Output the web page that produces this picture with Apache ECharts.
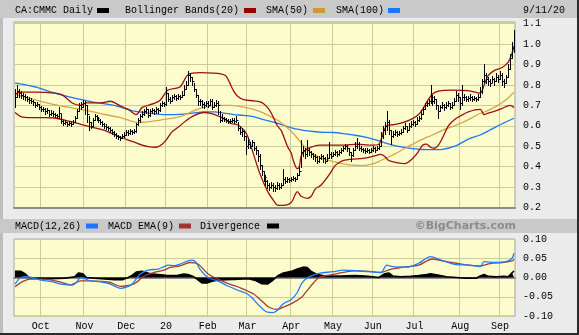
<!DOCTYPE html>
<html>
<head>
<meta charset="utf-8">
<script src="https://cdn.jsdelivr.net/npm/echarts@6/dist/echarts.min.js"></script>
<style>
  html, body { margin: 0; padding: 0; background: #ebebeb; }
  #chart { width: 579px; height: 335px; }
</style>
</head>
<body>
<div id="chart"></div>
<script>
// Trading sessions per month, Sep 2019 .. Sep 2020
const monthNames = ['Sep', 'Oct', 'Nov', 'Dec', '20', 'Feb', 'Mar', 'Apr', 'May', 'Jun', 'Jul', 'Aug', 'Sep'];
const monthSessions = [13, 22, 21, 20, 21, 20, 22, 21, 20, 21, 23, 20, 8];

// Daily bars: high / low / close
const highs = [
  0.78, 0.80, 0.78, 0.77, 0.76, 0.755, 0.745, 0.74, 0.735, 0.725,
  0.715, 0.715, 0.705, 0.695, 0.69, 0.685, 0.685, 0.675, 0.675, 0.67,
  0.665, 0.66, 0.69, 0.66, 0.63, 0.63, 0.62, 0.625, 0.62, 0.63,
  0.65, 0.68, 0.71, 0.715, 0.725, 0.72, 0.70, 0.65, 0.62, 0.64,
  0.66, 0.655, 0.645, 0.635, 0.625, 0.615, 0.61, 0.60, 0.595, 0.585,
  0.575, 0.565, 0.555, 0.55, 0.56, 0.57, 0.58, 0.58, 0.585, 0.58,
  0.585, 0.615, 0.64, 0.66, 0.67, 0.68, 0.69, 0.68, 0.68, 0.685,
  0.68, 0.69, 0.685, 0.71, 0.72, 0.715, 0.79, 0.76, 0.74, 0.75,
  0.755, 0.75, 0.755, 0.75, 0.77, 0.80, 0.82, 0.87, 0.86, 0.84,
  0.81, 0.78, 0.75, 0.73, 0.725, 0.715, 0.72, 0.72, 0.73, 0.73,
  0.715, 0.725, 0.72, 0.67, 0.66, 0.645, 0.64, 0.635, 0.635, 0.64,
  0.64, 0.65, 0.62, 0.60, 0.59, 0.58, 0.55, 0.54, 0.52, 0.53,
  0.52, 0.50, 0.48, 0.46, 0.41, 0.38, 0.36, 0.335, 0.32, 0.325,
  0.32, 0.31, 0.325, 0.32, 0.32, 0.39, 0.35, 0.35, 0.345, 0.35,
  0.355, 0.35, 0.37, 0.40, 0.53, 0.50, 0.49, 0.53, 0.49, 0.475,
  0.465, 0.46, 0.45, 0.45, 0.46, 0.455, 0.445, 0.46, 0.52, 0.47,
  0.47, 0.48, 0.475, 0.48, 0.49, 0.50, 0.51, 0.505, 0.49, 0.47,
  0.49, 0.52, 0.54, 0.52, 0.50, 0.49, 0.49, 0.49, 0.485, 0.49,
  0.50, 0.495, 0.50, 0.51, 0.57, 0.60, 0.62, 0.67, 0.63, 0.58,
  0.575, 0.58, 0.575, 0.575, 0.585, 0.60, 0.615, 0.60, 0.615, 0.625,
  0.63, 0.625, 0.645, 0.65, 0.675, 0.69, 0.71, 0.72, 0.73, 0.80,
  0.75, 0.745, 0.73, 0.70, 0.70, 0.715, 0.705, 0.715, 0.72, 0.71,
  0.715, 0.735, 0.77, 0.76, 0.74, 0.80, 0.755, 0.745, 0.745, 0.755,
  0.745, 0.745, 0.74, 0.755, 0.79, 0.83, 0.90, 0.86, 0.84, 0.83,
  0.845, 0.835, 0.86, 0.85, 0.87, 0.86, 0.83, 0.85, 0.90, 0.95,
  1.01, 1.07
];
const lows = [
  0.69, 0.74, 0.74, 0.735, 0.73, 0.725, 0.72, 0.71, 0.71, 0.70,
  0.69, 0.695, 0.68, 0.67, 0.67, 0.66, 0.665, 0.65, 0.655, 0.65,
  0.645, 0.64, 0.64, 0.615, 0.605, 0.61, 0.60, 0.605, 0.60, 0.61,
  0.62, 0.64, 0.67, 0.68, 0.69, 0.66, 0.62, 0.58, 0.59, 0.60,
  0.63, 0.63, 0.62, 0.61, 0.60, 0.59, 0.585, 0.58, 0.57, 0.56,
  0.55, 0.54, 0.535, 0.53, 0.54, 0.545, 0.555, 0.555, 0.56, 0.56,
  0.565, 0.57, 0.605, 0.62, 0.645, 0.655, 0.665, 0.645, 0.65, 0.665,
  0.66, 0.665, 0.665, 0.67, 0.695, 0.695, 0.70, 0.72, 0.71, 0.72,
  0.73, 0.725, 0.73, 0.73, 0.74, 0.75, 0.78, 0.80, 0.82, 0.80,
  0.77, 0.74, 0.70, 0.70, 0.69, 0.685, 0.695, 0.69, 0.70, 0.68,
  0.69, 0.695, 0.66, 0.62, 0.625, 0.625, 0.62, 0.615, 0.615, 0.62,
  0.615, 0.62, 0.58, 0.56, 0.55, 0.53, 0.46, 0.49, 0.49, 0.50,
  0.48, 0.46, 0.43, 0.39, 0.36, 0.33, 0.31, 0.295, 0.285, 0.295,
  0.28, 0.28, 0.29, 0.29, 0.295, 0.31, 0.32, 0.325, 0.325, 0.33,
  0.335, 0.33, 0.34, 0.36, 0.40, 0.45, 0.44, 0.45, 0.455, 0.445,
  0.435, 0.43, 0.42, 0.425, 0.435, 0.425, 0.42, 0.43, 0.44, 0.44,
  0.45, 0.455, 0.45, 0.455, 0.465, 0.475, 0.485, 0.475, 0.455, 0.43,
  0.45, 0.48, 0.49, 0.48, 0.475, 0.47, 0.465, 0.47, 0.465, 0.47,
  0.475, 0.47, 0.48, 0.485, 0.50, 0.54, 0.56, 0.58, 0.56, 0.51,
  0.545, 0.555, 0.55, 0.555, 0.56, 0.57, 0.585, 0.57, 0.58, 0.595,
  0.605, 0.60, 0.61, 0.625, 0.635, 0.66, 0.68, 0.695, 0.70, 0.71,
  0.70, 0.71, 0.68, 0.64, 0.67, 0.685, 0.675, 0.685, 0.695, 0.68,
  0.685, 0.70, 0.72, 0.72, 0.68, 0.70, 0.725, 0.72, 0.72, 0.725,
  0.72, 0.725, 0.72, 0.725, 0.74, 0.76, 0.81, 0.81, 0.80, 0.795,
  0.815, 0.80, 0.82, 0.815, 0.83, 0.80, 0.79, 0.81, 0.84, 0.88,
  0.93, 0.96
];
const closes = [
  0.74, 0.77, 0.76, 0.75, 0.745, 0.74, 0.73, 0.725, 0.72, 0.715,
  0.70, 0.705, 0.69, 0.68, 0.68, 0.67, 0.675, 0.66, 0.665, 0.66,
  0.655, 0.65, 0.665, 0.625, 0.615, 0.62, 0.61, 0.615, 0.61, 0.62,
  0.64, 0.67, 0.70, 0.69, 0.71, 0.70, 0.66, 0.62, 0.60, 0.63,
  0.65, 0.64, 0.63, 0.62, 0.61, 0.60, 0.595, 0.59, 0.58, 0.57,
  0.56, 0.55, 0.545, 0.54, 0.55, 0.555, 0.57, 0.565, 0.575, 0.57,
  0.575, 0.61, 0.63, 0.65, 0.66, 0.67, 0.68, 0.655, 0.67, 0.675,
  0.67, 0.68, 0.675, 0.70, 0.71, 0.705, 0.76, 0.73, 0.72, 0.74,
  0.745, 0.735, 0.745, 0.74, 0.75, 0.78, 0.80, 0.85, 0.84, 0.82,
  0.78, 0.75, 0.72, 0.72, 0.705, 0.70, 0.71, 0.70, 0.72, 0.69,
  0.70, 0.71, 0.70, 0.63, 0.64, 0.635, 0.63, 0.625, 0.625, 0.63,
  0.625, 0.63, 0.59, 0.57, 0.575, 0.55, 0.50, 0.51, 0.50, 0.52,
  0.49, 0.48, 0.45, 0.41, 0.38, 0.35, 0.33, 0.31, 0.30, 0.31,
  0.30, 0.295, 0.31, 0.30, 0.31, 0.34, 0.33, 0.34, 0.335, 0.34,
  0.345, 0.34, 0.36, 0.38, 0.47, 0.48, 0.46, 0.48, 0.47, 0.46,
  0.45, 0.445, 0.43, 0.44, 0.45, 0.44, 0.43, 0.44, 0.46, 0.45,
  0.46, 0.47, 0.46, 0.47, 0.48, 0.49, 0.50, 0.49, 0.47, 0.455,
  0.48, 0.50, 0.51, 0.49, 0.485, 0.48, 0.475, 0.48, 0.47, 0.48,
  0.49, 0.48, 0.49, 0.50, 0.55, 0.58, 0.60, 0.62, 0.58, 0.55,
  0.56, 0.57, 0.56, 0.565, 0.57, 0.59, 0.60, 0.58, 0.60, 0.61,
  0.62, 0.61, 0.63, 0.64, 0.66, 0.68, 0.70, 0.71, 0.72, 0.74,
  0.72, 0.73, 0.70, 0.67, 0.69, 0.70, 0.69, 0.70, 0.71, 0.69,
  0.70, 0.72, 0.75, 0.74, 0.71, 0.74, 0.74, 0.73, 0.735, 0.74,
  0.73, 0.735, 0.73, 0.74, 0.77, 0.82, 0.85, 0.83, 0.82, 0.81,
  0.83, 0.82, 0.84, 0.83, 0.85, 0.82, 0.81, 0.84, 0.88, 0.93,
  0.98, 1.04
];

// Overlay studies, [session, value]
const bbUpper = [
  [0, 0.755], [3, 0.765], [10, 0.765], [20, 0.76], [24, 0.75], [29, 0.71], [33, 0.70], [36, 0.712],
  [43, 0.712], [48, 0.72], [53, 0.697], [57, 0.68], [61, 0.655], [64, 0.69], [70, 0.71], [73, 0.725],
  [77, 0.775], [83, 0.79], [87, 0.85], [93, 0.86], [100, 0.858], [103, 0.855], [106, 0.845], [108, 0.81],
  [110, 0.77], [112, 0.745], [115, 0.728], [120, 0.722], [124, 0.715], [127, 0.69], [129, 0.66], [132, 0.60],
  [134, 0.575], [137, 0.50], [139, 0.465], [140, 0.43], [142, 0.39], [143, 0.40], [144, 0.455], [146, 0.48],
  [149, 0.495], [153, 0.505], [165, 0.505], [172, 0.51], [179, 0.505], [183, 0.51], [185, 0.56], [187, 0.60],
  [190, 0.605], [195, 0.615], [200, 0.635], [203, 0.655], [205, 0.68], [208, 0.73], [210, 0.755], [213, 0.77],
  [220, 0.775], [228, 0.772], [234, 0.76], [236, 0.80], [238, 0.845], [241, 0.87], [245, 0.885], [248, 0.91],
  [250, 0.955], [251, 0.99]
];
const bbLower = [
  [0, 0.665], [3, 0.645], [8, 0.64], [15, 0.64], [20, 0.638], [25, 0.628], [30, 0.615], [34, 0.605],
  [40, 0.59], [45, 0.578], [48, 0.565], [53, 0.545], [57, 0.53], [60, 0.52], [64, 0.505], [67, 0.498],
  [71, 0.495], [74, 0.51], [76, 0.53], [79, 0.57], [83, 0.60], [86, 0.625], [90, 0.65], [95, 0.665],
  [99, 0.66], [103, 0.645], [106, 0.63], [109, 0.61], [112, 0.605], [115, 0.58], [117, 0.55], [120, 0.46],
  [123, 0.37], [127, 0.28], [130, 0.235], [132, 0.212], [135, 0.21], [139, 0.225], [141, 0.265], [142, 0.278],
  [144, 0.255], [147, 0.245], [149, 0.255], [151, 0.29], [154, 0.31], [158, 0.36], [161, 0.405], [163, 0.42],
  [165, 0.43], [170, 0.437], [175, 0.44], [180, 0.45], [184, 0.46], [186, 0.45], [188, 0.43], [192, 0.42],
  [196, 0.415], [200, 0.44], [203, 0.475], [205, 0.505], [207, 0.51], [209, 0.495], [211, 0.49], [213, 0.505],
  [215, 0.54], [218, 0.60], [221, 0.63], [224, 0.648], [228, 0.668], [234, 0.68], [236, 0.655], [238, 0.662],
  [241, 0.67], [245, 0.685], [249, 0.70], [251, 0.69]
];
const sma50 = [
  [0, 0.755], [13, 0.72], [23, 0.697], [33, 0.68], [43, 0.66], [53, 0.64], [59, 0.622], [63, 0.616],
  [68, 0.62], [73, 0.628], [83, 0.645], [88, 0.665], [93, 0.685], [98, 0.695], [103, 0.70], [108, 0.70],
  [113, 0.695], [118, 0.685], [123, 0.67], [128, 0.648], [132, 0.628], [136, 0.598], [139, 0.572], [142, 0.54],
  [144, 0.515], [147, 0.485], [150, 0.462], [154, 0.442], [160, 0.425], [165, 0.413], [170, 0.407], [175, 0.405],
  [180, 0.413], [184, 0.43], [189, 0.452], [194, 0.478], [199, 0.505], [204, 0.53], [210, 0.555], [215, 0.578],
  [221, 0.60], [226, 0.62], [230, 0.64], [234, 0.66], [238, 0.675], [242, 0.695], [246, 0.72], [249, 0.745],
  [251, 0.765]
];
const sma100 = [
  [0, 0.81], [10, 0.79], [20, 0.76], [30, 0.735], [40, 0.715], [50, 0.70], [55, 0.685], [60, 0.672],
  [65, 0.665], [70, 0.658], [75, 0.655], [80, 0.655], [85, 0.657], [90, 0.663], [95, 0.668], [100, 0.668],
  [105, 0.662], [110, 0.655], [115, 0.651], [120, 0.645], [125, 0.63], [130, 0.618], [135, 0.603], [140, 0.587],
  [145, 0.578], [150, 0.572], [155, 0.568], [160, 0.567], [165, 0.562], [170, 0.555], [175, 0.547], [180, 0.535],
  [185, 0.52], [190, 0.505], [195, 0.495], [200, 0.488], [205, 0.484], [210, 0.483], [215, 0.485], [222, 0.503],
  [228, 0.535], [234, 0.555], [240, 0.585], [246, 0.615], [251, 0.637]
];

// MACD study, [session, value]
const macdLine = [
  [0, -0.017], [3, 0.0], [6, 0.002], [13, -0.007], [18, -0.010], [23, -0.017], [29, -0.020], [31, -0.012],
  [33, 0.0], [35, -0.003], [38, -0.009], [43, -0.011], [48, -0.017], [53, -0.028], [56, -0.025], [59, -0.017],
  [63, 0.009], [67, 0.019], [72, 0.022], [75, 0.028], [77, 0.032], [80, 0.031], [83, 0.035], [87, 0.043],
  [89, 0.045], [91, 0.040], [93, 0.022], [97, 0.0], [102, -0.009], [107, -0.022], [113, -0.035], [117, -0.043],
  [120, -0.057], [123, -0.074], [127, -0.090], [130, -0.091], [132, -0.085], [135, -0.068], [139, -0.057], [142, -0.039],
  [144, -0.017], [146, -0.005], [149, 0.004], [153, 0.011], [160, 0.015], [165, 0.019], [171, 0.018], [178, 0.015],
  [184, 0.013], [187, 0.032], [190, 0.028], [197, 0.027], [203, 0.037], [209, 0.054], [214, 0.046], [221, 0.034],
  [229, 0.032], [234, 0.028], [236, 0.041], [242, 0.039], [247, 0.041], [250, 0.050], [251, 0.063]
];
const macdSignal = [
  [0, -0.024], [4, -0.010], [8, -0.004], [13, -0.004], [18, -0.006], [23, -0.012], [28, -0.019], [33, -0.009],
  [38, -0.009], [43, -0.010], [48, -0.013], [53, -0.023], [58, -0.020], [61, -0.013], [65, 0.004], [70, 0.013],
  [75, 0.019], [78, 0.026], [83, 0.030], [88, 0.039], [92, 0.035], [97, 0.010], [102, -0.004], [108, -0.017],
  [113, -0.026], [120, -0.043], [125, -0.065], [128, -0.078], [132, -0.083], [135, -0.077], [139, -0.068], [144, -0.052],
  [146, -0.040], [150, -0.015], [153, 0.0], [160, 0.008], [166, 0.014], [171, 0.017], [178, 0.016], [184, 0.013],
  [188, 0.020], [192, 0.024], [197, 0.028], [203, 0.032], [210, 0.048], [215, 0.043], [222, 0.037], [230, 0.031],
  [234, 0.030], [239, 0.036], [245, 0.039], [250, 0.043], [251, 0.048]
];
const divergence = [
  [0, 0.016], [3, 0.016], [5, 0.010], [7, 0.0], [10, -0.002], [18, -0.003], [25, -0.002], [30, 0.002],
  [32, 0.012], [34, 0.010], [36, 0.0], [40, -0.002], [45, -0.004], [50, -0.006], [54, -0.006], [57, 0.0],
  [59, 0.006], [61, 0.014], [64, 0.016], [68, 0.010], [72, 0.008], [76, 0.006], [79, 0.005], [82, 0.006],
  [85, 0.009], [87, 0.008], [90, 0.002], [92, -0.006], [94, -0.014], [97, -0.014], [99, -0.010], [102, -0.007],
  [106, -0.006], [110, -0.005], [115, -0.004], [118, -0.004], [121, -0.008], [124, -0.016], [127, -0.017], [130, -0.006],
  [132, 0.004], [135, 0.012], [139, 0.016], [142, 0.022], [145, 0.027], [147, 0.026], [149, 0.016], [152, 0.008],
  [156, 0.004], [164, 0.004], [171, 0.005], [176, 0.004], [180, 0.002], [183, 0.0], [186, 0.010], [188, 0.012],
  [190, 0.004], [194, 0.002], [199, 0.003], [203, 0.005], [207, 0.008], [209, 0.010], [212, 0.007], [217, 0.002],
  [222, 0.0], [227, -0.002], [232, -0.002], [234, 0.004], [236, 0.008], [238, 0.003], [242, 0.002], [246, 0.003],
  [248, 0.002], [250, 0.012], [251, 0.017]
];

// ---- build session categories and month-start markers ----
const sessions = [];
const monthStart = {};
monthSessions.forEach((n, m) => {
  for (let k = 0; k < n; k++) {
    if (k === 0 && m > 0) monthStart[sessions.length] = monthNames[m];
    sessions.push(monthNames[m] + '-' + (k + 1));
  }
});
const isMonthStart = (idx) => monthStart[idx] !== undefined;

const FONT = '"Liberation Mono", "DejaVu Sans Mono", monospace';
const GRID_LINE = '#cccc99';
const PLOT_BG = '#fcfccd';
const BB_RED = '#a00f0f';
const SMA50_COL = '#d7a748';
const SMA100_COL = '#1b78f2';

const barData = closes.map((c, i) => [i, highs[i], lows[i], c]);

const chart = echarts.init(document.getElementById('chart'), null, { renderer: 'canvas' });

function ohlcItem(params, api) {
  const i = api.value(0);
  const hi = api.coord([i, api.value(1)]);
  const lo = api.coord([i, api.value(2)]);
  const cl = api.coord([i, api.value(3)]);
  const x = Math.round(hi[0]) + 0.5;
  const yc = Math.round(cl[1]) + 0.5;
  return {
    type: 'group',
    children: [
      { type: 'line', shape: { x1: x, y1: Math.round(hi[1]), x2: x, y2: Math.round(lo[1]) + 1 },
        style: { stroke: '#000', lineWidth: 1 } },
      { type: 'line', shape: { x1: x, y1: yc, x2: x + 2, y2: yc },
        style: { stroke: '#000', lineWidth: 1 } }
    ]
  };
}

function overlay(name, data, color, gridIdx) {
  return {
    name, type: 'line', data, xAxisIndex: gridIdx, yAxisIndex: gridIdx,
    showSymbol: false, smooth: 0.3, silent: true,
    lineStyle: { color, width: 1.3 }
  };
}

const txt = (text, x, y, extra) => ({
  type: 'text', x, y,
  style: Object.assign({ text, font: '10px ' + FONT, fill: '#000', textVerticalAlign: 'middle' }, extra || {})
});
const swatch = (x, y, color) => ({ type: 'rect', shape: { x, y, width: 12, height: 5 }, style: { fill: color } });

const option = {
  animation: false,
  backgroundColor: '#ebebeb',
  textStyle: { fontFamily: FONT },
  graphic: [
    { type: 'rect', z: -10, shape: { x: 0, y: 0, width: 3, height: 335 }, style: { fill: '#bdbdbd' } },
    { type: 'rect', shape: { x: 0, y: 0, width: 577, height: 18 }, style: { fill: '#c9c9c9' } },
    { type: 'rect', shape: { x: 0, y: 219, width: 577, height: 14 }, style: { fill: '#c9c9c9' } },
    { type: 'rect', shape: { x: 577, y: 0, width: 2, height: 335 }, style: { fill: '#2b2b2b' } },
    { type: 'rect', shape: { x: 0, y: 333, width: 579, height: 2 }, style: { fill: '#2b2b2b' } },
    txt('CA:CMMC Daily', 15, 10.5),
    swatch(97, 8, '#000'),
    txt('Bollinger Bands(20)', 125, 10.5),
    swatch(244, 8, '#990000'),
    txt('SMA(50)', 266, 10.5),
    swatch(313, 8, '#cc9933'),
    txt('SMA(100)', 336, 10.5),
    swatch(388, 8, '#1a75ff'),
    txt('9/11/20', 565, 10.5, { textAlign: 'right' }),
    txt('MACD(12,26)', 15, 226),
    swatch(86, 223.5, '#1a75ff'),
    txt('MACD EMA(9)', 108, 226),
    swatch(179, 223.5, '#a33333'),
    txt('Divergence', 200, 226),
    swatch(267, 223.5, '#000'),
    txt('\u00a9BigCharts.com', 516, 226, { textAlign: 'right', fill: '#8c8c8c', font: 'bold 11px "DejaVu Sans", sans-serif' })
  ],
  grid: [
    { left: 14, top: 22, width: 501, height: 185.5, show: true, backgroundColor: PLOT_BG, borderColor: '#a6a6a6', borderWidth: 1 },
    { left: 14, top: 239, width: 501, height: 77, show: true, backgroundColor: PLOT_BG, borderColor: '#a6a6a6', borderWidth: 1 }
  ],
  xAxis: [0, 1].map((g) => ({
    type: 'category', gridIndex: g, data: sessions, boundaryGap: true,
    axisLine: { show: true, lineStyle: { color: '#8c8c8c', width: 2 } },
    axisTick: { show: false },
    splitLine: { show: true, interval: (idx) => isMonthStart(idx), lineStyle: { color: GRID_LINE, width: 1 } },
    axisLabel: g === 0 ? { show: false } : {
      show: true, interval: (idx) => isMonthStart(idx), formatter: (v, idx) => monthStart[idx] || '',
      color: '#000', fontSize: 10, fontFamily: FONT, margin: 5
    }
  })),
  yAxis: [
    {
      type: 'value', gridIndex: 0, position: 'right', min: 0.2, max: 1.108, interval: 0.1,
      axisLine: { show: false }, axisTick: { show: false },
      splitLine: { show: true, lineStyle: { color: GRID_LINE, width: 1 } },
      axisLabel: { color: '#000', fontSize: 10, fontFamily: FONT, margin: 8, showMaxLabel: false,
        formatter: (v) => v.toFixed(1) }
    },
    {
      type: 'value', gridIndex: 1, position: 'right', min: -0.1, max: 0.1, interval: 0.05,
      axisLine: { show: false }, axisTick: { show: false },
      splitLine: { show: true, lineStyle: { color: GRID_LINE, width: 1 } },
      axisLabel: { color: '#000', fontSize: 10, fontFamily: FONT, margin: 8,
        formatter: (v) => (Math.abs(v) < 1e-9 ? 0 : v).toFixed(2) }
    }
  ],
  series: [
    overlay('SMA(100)', sma100, SMA100_COL, 0),
    overlay('SMA(50)', sma50, SMA50_COL, 0),
    overlay('BB upper', bbUpper, BB_RED, 0),
    overlay('BB lower', bbLower, BB_RED, 0),
    {
      name: 'CA:CMMC', type: 'custom', xAxisIndex: 0, yAxisIndex: 0, z: 5,
      renderItem: ohlcItem, data: barData, encode: { x: 0, y: [1, 2, 3] }, clip: true
    },
    {
      name: 'Divergence', type: 'line', xAxisIndex: 1, yAxisIndex: 1, data: divergence,
      showSymbol: false, silent: true, lineStyle: { color: '#000', width: 1.5 },
      areaStyle: { color: '#000', opacity: 1 }
    },
    Object.assign(overlay('MACD EMA(9)', macdSignal, '#a33a3a', 1), { z: 3 }),
    Object.assign(overlay('MACD(12,26)', macdLine, '#1e7dff', 1), { z: 4 })
  ]
};

chart.setOption(option);
</script>
</body>
</html>
